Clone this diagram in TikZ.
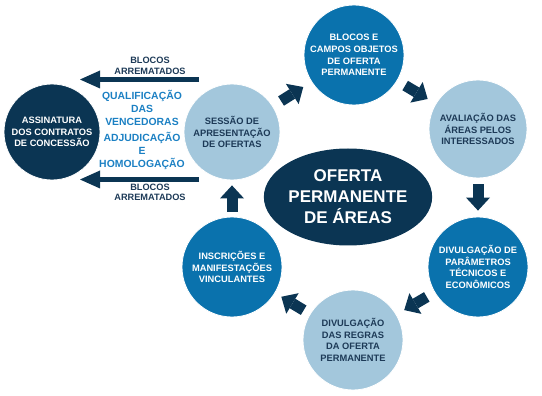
\documentclass[tikz,border=0pt]{standalone}
\usepackage{fontspec}
\setmainfont{Liberation Sans}
\usetikzlibrary{arrows.meta,positioning,shapes.geometric}
\definecolor{Navy}{HTML}{0B3553}
\definecolor{Ocean}{HTML}{0A72AD}
\definecolor{Sky}{HTML}{A3C7DC}
\definecolor{Ink}{HTML}{1D3A57}
\definecolor{Bright}{HTML}{1B80C3}
\tikzset{
  stage/.style={circle,draw=white,line width=.8pt,minimum size=100pt,inner sep=0pt,align=center,
    font=\bfseries\fontsize{9.3}{11.6}\selectfont},
  darkst/.style={stage,fill=Navy,text=white},
  midst/.style={stage,fill=Ocean,text=white},
  lightst/.style={stage,fill=Sky,text=Ink},
  hub/.style={ellipse,fill=Navy,text=white,minimum width=152pt,minimum height=97pt,inner sep=0pt,align=center,
    font=\bfseries\fontsize{17}{21}\selectfont},
  flow/.style={-{Triangle[width=24pt,length=13pt,line width=0pt]},line width=11pt,draw=Navy},
  award/.style={-{Triangle[width=18pt,length=20pt,line width=0pt]},line width=5pt,draw=Navy},
  lab/.style={align=center,text=Ink,font=\bfseries\fontsize{9.2}{10.5}\selectfont},
  bluelab/.style={align=center,text=Bright,font=\bfseries\fontsize{10.4}{12.8}\selectfont}
}
\begin{document}
\begin{tikzpicture}[x=1pt,y=-1pt]
  \useasboundingbox (0,0) rectangle (542,396);
  % cycle of stages
  \node[darkst,minimum size=96pt] (assin) at (52,132) {ASSINATURA\\DOS CONTRATOS\\DE CONCESSÃO};
  \node[lightst,minimum size=96pt] (sessao) at (232,132) {SESSÃO DE\\APRESENTAÇÃO\\DE OFERTAS};
  \node[midst] (blocos) at (354,55) {BLOCOS E\\CAMPOS OBJETOS\\DE OFERTA\\PERMANENTE};
  \node[lightst,minimum size=98pt] (aval) at (478,129) {AVALIAÇÃO DAS\\ÁREAS PELOS\\INTERESSADOS};
  \node[midst] (param) at (478,267) {DIVULGAÇÃO DE\\PARÂMETROS\\TÉCNICOS E\\ECONÔMICOS};
  \node[lightst] (regras) at (353,340) {DIVULGAÇÃO\\DAS REGRAS\\DA OFERTA\\PERMANENTE};
  \node[midst] (inscr) at (232,267) {INSCRIÇÕES E\\MANIFESTAÇÕES\\VINCULANTES};
  \node[hub] (hub) at (348,197) {OFERTA\\PERMANENTE\\DE ÁREAS};

  \draw[flow,shorten <=9.6pt,shorten >=9.6pt] (sessao) -- (blocos);
  \draw[flow,shorten <=9.2pt,shorten >=9.2pt] (blocos) -- (aval);
  \draw[flow,shorten <=6pt,shorten >=6pt] (aval) -- (param);
  \draw[flow,shorten <=8.9pt,shorten >=8.9pt] (param) -- (regras);
  \draw[flow,shorten <=7.2pt,shorten >=7.2pt] (regras) -- (inscr);
  \draw[flow,shorten <=5pt,shorten >=5pt] (inscr) -- (sessao);

  % awarded blocks towards the contracts
  \coordinate (topR) at (199,79.5); \coordinate (topL) at (80,79.5);
  \coordinate (botR) at (199,179.5); \coordinate (botL) at (80,179.5);
  \draw[award] (topR) -- (topL);
  \draw[award] (botR) -- (botL);
  \node[lab] (arremA) at (150,66) {BLOCOS\\ARREMATADOS};
  \node[lab] (arremB) at (150,192.5) {BLOCOS\\ARREMATADOS};
  \node[bluelab] (qualif) at (142,108) {QUALIFICAÇÃO\\DAS\\VENCEDORAS};
  \node[bluelab] (adjud) at (142,151) {ADJUDICAÇÃO\\E\\HOMOLOGAÇÃO};
\end{tikzpicture}
\end{document}
